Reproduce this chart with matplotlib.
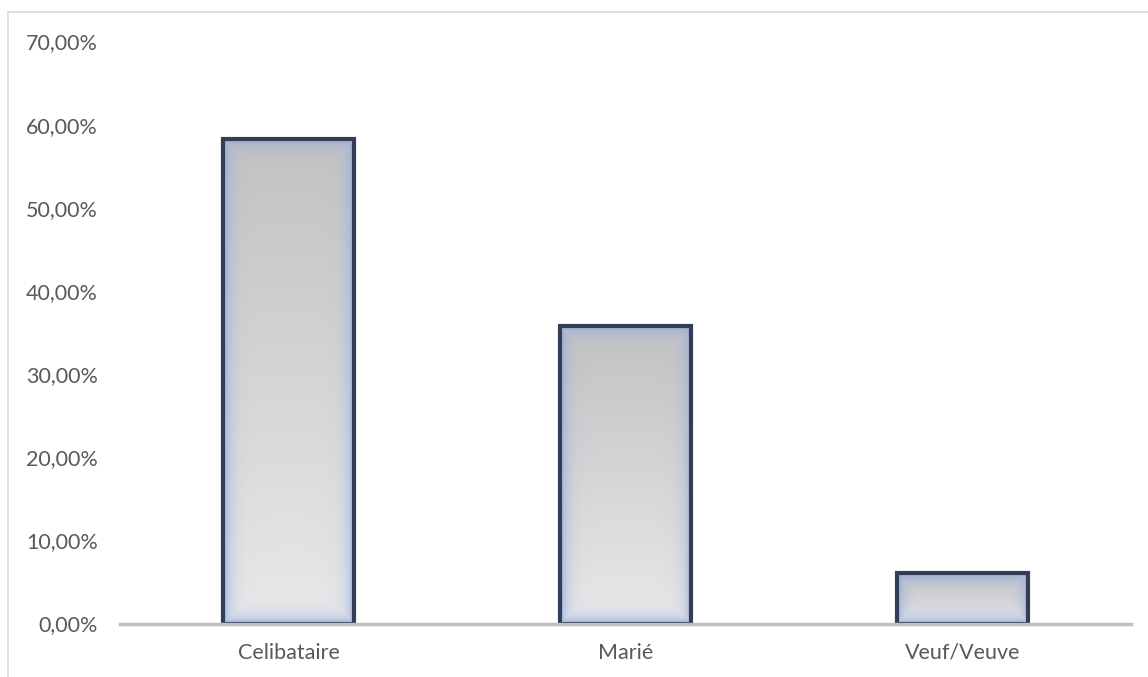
import numpy as np
import matplotlib.pyplot as plt
from matplotlib.colors import to_rgb
from matplotlib.lines import Line2D
from matplotlib.ticker import FuncFormatter

# répartition par état civil
categories = ['Celibataire', 'Marié', 'Veuf/Veuve']
values = [0.583, 0.358, 0.061]
yticks = [0.0, 0.1, 0.2, 0.3, 0.4, 0.5, 0.6, 0.7]

plt.rcParams['font.family'] = ['Lato', 'DejaVu Sans']

W, H = 1148, 677
fig = plt.figure(figsize=(W / 100, H / 100), dpi=100)
ax = fig.add_axes([120 / W, 1 - 623.5 / H, 1011 / W, 582 / H])

bar_w = 0.39
ymax = 0.7


def bar_image(h_px, w_px):
    # dégradé gris vertical + halo bleu sur les bords
    ny = max(int(h_px), 2)
    nx = max(int(w_px), 2)
    t = np.linspace(0, 1, ny)[:, None, None]
    top = np.array(to_rgb('#c2c2c2'))
    bottom = np.array(to_rgb('#e9e9e9'))
    base = top + (bottom - top) * t
    ix = np.arange(nx)
    iy = np.arange(ny)
    dx = np.minimum(ix, nx - 1 - ix)[None, :]
    dy = np.minimum(iy, ny - 1 - iy)[:, None]
    d = np.minimum(dx, dy)
    wgt = (np.exp(-d / 7.0) * 0.85)[..., None]
    glow = np.array(to_rgb('#8fa9e0'))
    return base * (1 - wgt) + glow * wgt


ax_w_px = 1011
ax_h_px = 582
for i, v in enumerate(values):
    h_px = v / ymax * ax_h_px
    w_px = bar_w / 3 * ax_w_px
    img = bar_image(h_px, w_px)
    ax.imshow(img, extent=[i - bar_w / 2, i + bar_w / 2, 0, v],
              origin='upper', aspect='auto', zorder=2, interpolation='bilinear')

ax.bar(range(len(categories)), values, width=bar_w, facecolor='none',
       edgecolor='#313e54', linewidth=3, zorder=3)

ax.set_xlim(-0.5, len(categories) - 0.5)
ax.set_ylim(0, ymax)
ax.axhline(0, color='#bfbfbf', linewidth=2.5, zorder=4, clip_on=False)

for s in ax.spines.values():
    s.set_visible(False)

ax.set_yticks(yticks)
ax.yaxis.set_major_formatter(FuncFormatter(lambda v, p: f"{v * 100:.2f}%".replace('.', ',')))
ax.set_xticks(range(len(categories)))
ax.set_xticklabels(categories)
ax.tick_params(axis='y', length=0, pad=16, labelsize=15.5, labelcolor='#595959')
ax.tick_params(axis='x', length=0, pad=14, labelsize=15.5, labelcolor='#595959')

# cadre du graphique
fig.add_artist(Line2D([8 / W, 8 / W], [0, 1 - 12 / H], transform=fig.transFigure,
                      color='#d9d9d9', linewidth=1.2))
fig.add_artist(Line2D([8 / W, 1], [1 - 12 / H, 1 - 12 / H], transform=fig.transFigure,
                      color='#d9d9d9', linewidth=1.2))

fig.savefig('out.png', dpi=100, facecolor='white')
